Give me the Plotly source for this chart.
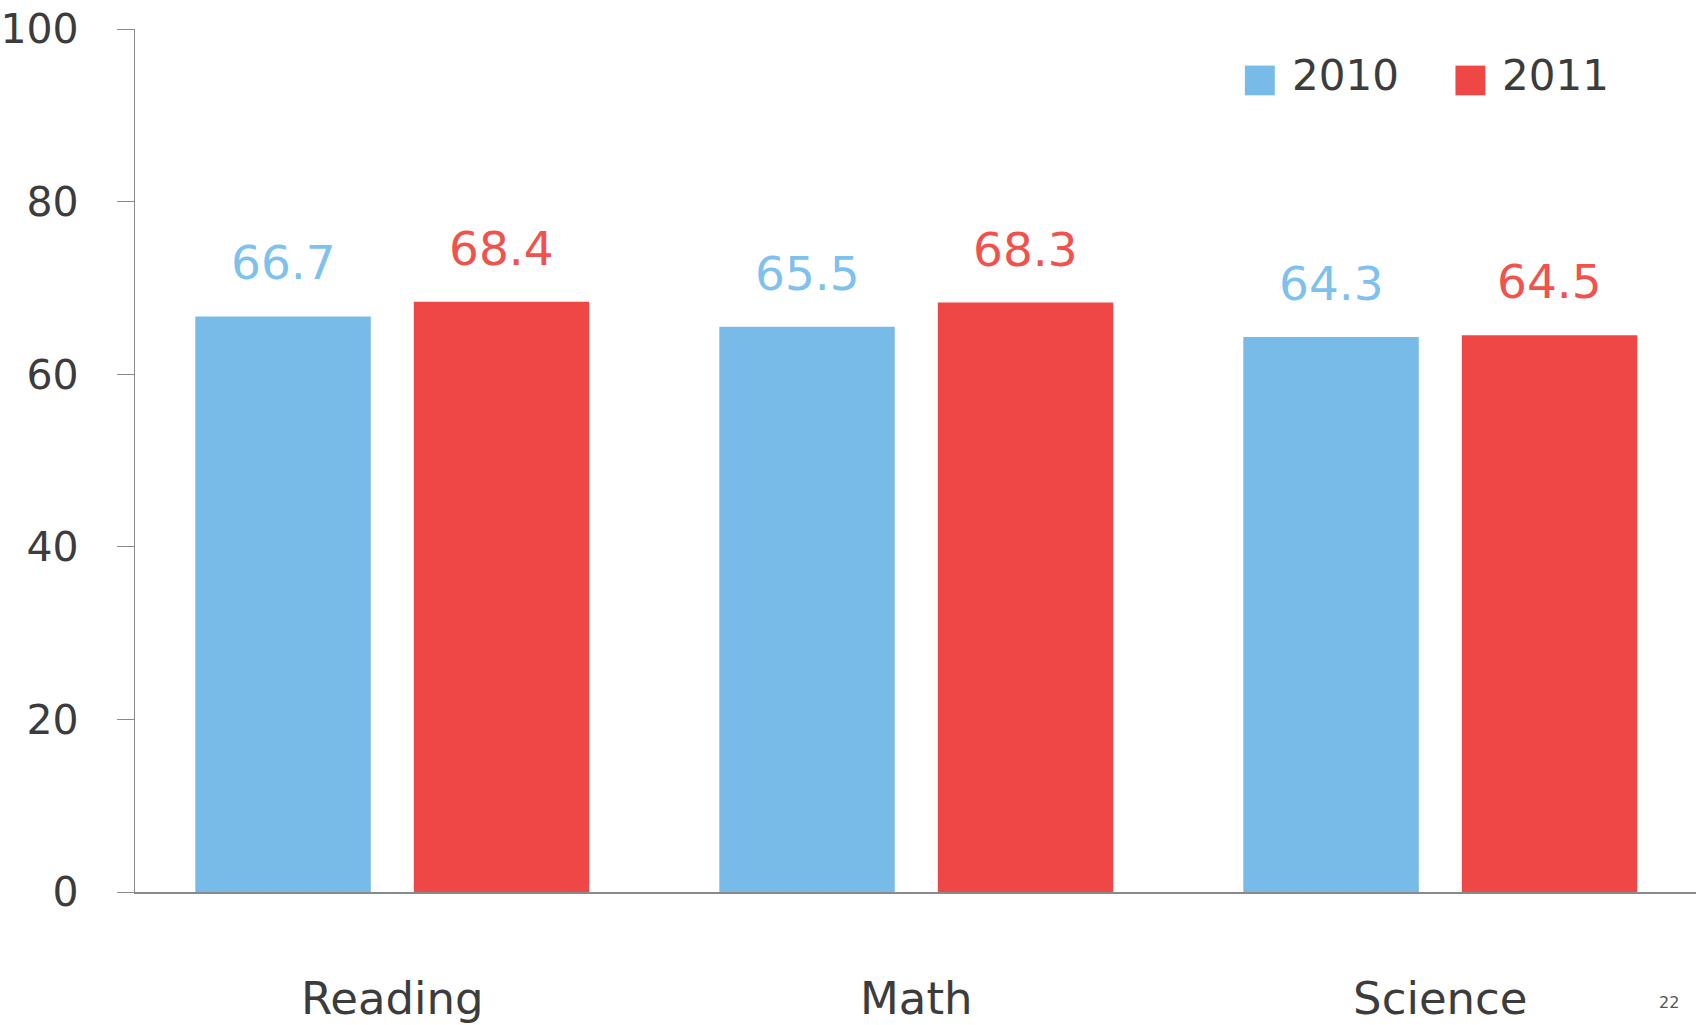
import plotly.graph_objects as go

# Scores by subject and year
subjects = ["Reading", "Math", "Science"]
years = ["2010", "2011"]
scores_2010 = [66.7, 65.5, 64.3]
scores_2011 = [68.4, 68.3, 64.5]
y_ticks = [0, 20, 40, 60, 80, 100]

BAR_COLORS = {"2010": "#78bbe8", "2011": "#ef4745"}
LABEL_COLORS = {"2010": "#7ec1ed", "2011": "#f0524d"}
FONT = "DejaVu Sans"
TEXT_GREY = "#3c3c3c"
AXIS_GREY = "#8a8a8a"

W, H = 1696, 1025
M_L, M_R, M_T, M_B = 132, 0, 29, 124
BARGAP = 0.166
GROUPGAP = 0.197

fig = go.Figure()
for year, vals in zip(years, [scores_2010, scores_2011]):
    fig.add_trace(go.Bar(
        x=subjects, y=vals, name=year,
        marker=dict(color=BAR_COLORS[year], line=dict(width=0)),
        showlegend=False,
    ))

# Value labels above each bar
slot = (1 - BARGAP) / 2
for j, (year, vals) in enumerate(zip(years, [scores_2010, scores_2011])):
    for i, v in enumerate(vals):
        fig.add_annotation(
            x=i + (j - 0.5) * slot, y=v, xref="x", yref="y",
            text=f"{v:.1f}", showarrow=False, yanchor="bottom", yshift=24,
            font=dict(family=FONT, size=47, color=LABEL_COLORS[year]),
        )

# Legend drawn as swatches + labels in pixel-based paper coordinates
plot_w = W - M_L - M_R
plot_h = H - M_T - M_B


def px_x(px):
    return (px - M_L) / plot_w


def px_y(py):
    return (H - M_B - py) / plot_h


legend_items = [("2010", 1244, 1289), ("2011", 1455, 1500)]
for year, sx, tx in legend_items:
    fig.add_shape(type="rect", xref="paper", yref="paper",
                  x0=px_x(sx), x1=px_x(sx + 30), y0=px_y(96), y1=px_y(66),
                  fillcolor=BAR_COLORS[year], line=dict(width=0))
    fig.add_annotation(xref="paper", yref="paper", x=px_x(tx), y=px_y(76),
                       text=year, showarrow=False, xanchor="left", yanchor="middle",
                       font=dict(family=FONT, size=42, color=TEXT_GREY))

# Page number in the bottom-right corner
fig.add_annotation(xref="paper", yref="paper", x=px_x(1669), y=px_y(1024),
                   text="22", showarrow=False, xanchor="center", yanchor="bottom",
                   font=dict(family=FONT, size=16, color="#555555"))

fig.update_layout(
    width=W, height=H,
    margin=dict(l=M_L, r=M_R, t=M_T, b=M_B, pad=0),
    paper_bgcolor="white", plot_bgcolor="white",
    barmode="group", bargap=BARGAP, bargroupgap=GROUPGAP,
    font=dict(family=FONT, color=TEXT_GREY),
)
fig.update_xaxes(
    range=[-0.491, 2.488], showgrid=False, zeroline=False,
    showline=True, linecolor=AXIS_GREY, linewidth=1.5,
    ticks="", tickfont=dict(family=FONT, size=45, color=TEXT_GREY),
    ticklabelstandoff=66,
)
fig.update_yaxes(
    range=[0, 100], tickvals=y_ticks, ticktext=[str(t) for t in y_ticks],
    showgrid=False, zeroline=False,
    showline=True, linecolor=AXIS_GREY, linewidth=1.2,
    ticks="outside", ticklen=17, tickcolor=AXIS_GREY, tickwidth=1.2,
    tickfont=dict(family=FONT, size=41, color=TEXT_GREY),
    ticklabelstandoff=30,
)

fig.write_html("out.html")
